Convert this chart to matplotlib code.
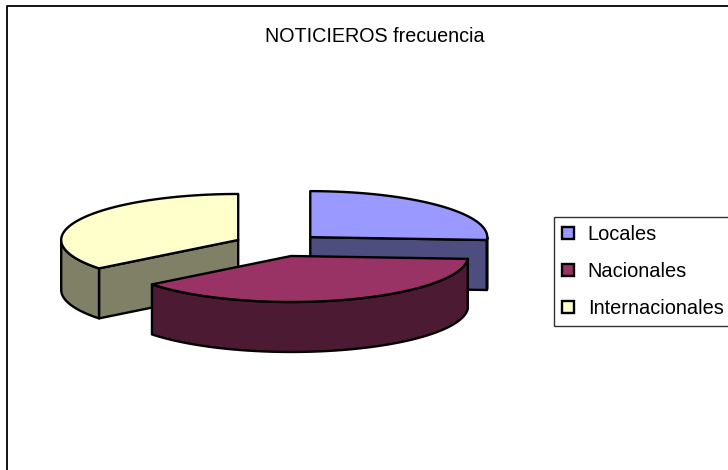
import numpy as np
import matplotlib
matplotlib.use("Agg")
import matplotlib.pyplot as plt
from matplotlib.patches import Polygon, Patch

plt.rcParams['font.family'] = ['Liberation Sans', 'DejaVu Sans']

title = "NOTICIEROS frecuencia"
categories = ["Locales", "Nacionales", "Internacionales"]
values = [26, 38.4, 35.6]
top_colors = ["#9999FF", "#993366", "#FFFFCC"]
side_colors = ["#4D4D80", "#4D1A33", "#808066"]

W, H = 728, 470
CX, CY, RX, RY = 278, 245, 177, 46
DEPTH = 50
EXPLODE = 0.25
EDGE = dict(edgecolor="black", linewidth=1.7, joinstyle="round")

fig = plt.figure(figsize=(W / 100, H / 100), dpi=100)
ax = fig.add_axes([0, 0, 1, 1])
ax.set_xlim(0, W)
ax.set_ylim(H, 0)
ax.axis("off")

# chart frame: only left and top are inside the picture
ax.plot([7, 7, W + 5], [H + 5, 6, 6], color="black", lw=1.3, zorder=1)


def pt(a, c):
    r = np.radians(a)
    return c[0] + RX * np.cos(r), c[1] - RY * np.sin(r)


fr = np.array(values, float) / sum(values)
ends = 90 - 360 * np.cumsum(fr)
starts = np.r_[90, ends[:-1]]
slices = []
for s, e in zip(starts, ends):
    m = np.radians((s + e) / 2)
    c = (CX + EXPLODE * RX * np.cos(m), CY - EXPLODE * RY * np.sin(m))
    slices.append((s, e, c))


def draw_slice(i, z):
    s, e, c = slices[i]
    top, side = top_colors[i], side_colors[i]
    # cut faces that look toward the viewer
    for a, normal in ((s, s + 90), (e, e - 90)):
        if np.sin(np.radians(normal)) < -1e-6:
            x, y = pt(a, c)
            face = [c, (x, y), (x, y + DEPTH), (c[0], c[1] + DEPTH)]
            ax.add_patch(Polygon(face, closed=True, facecolor=side, zorder=z, **EDGE))
    # outer rim, front half only
    for lo in (0, -360):
        a0, a1 = min(s, lo), max(e, lo - 180)
        if a0 > a1:
            ang = np.linspace(a0, a1, 80)
            upper = [pt(a, c) for a in ang]
            lower = [(x, y + DEPTH) for x, y in upper[::-1]]
            ax.add_patch(Polygon(upper + lower, closed=True, facecolor=side, zorder=z + 0.1, **EDGE))
    # top face
    ang = np.linspace(s, e, 160)
    ax.add_patch(Polygon([c] + [pt(a, c) for a in ang], closed=True, facecolor=top, zorder=z + 0.2, **EDGE))


for i, z in ((2, 2), (0, 3), (1, 4)):
    draw_slice(i, z)

ax.text(375, 36, title, ha="center", va="center", fontsize=14.2, color="black")

handles = [Patch(facecolor=c, edgecolor="black", linewidth=1.7) for c in top_colors]
leg = ax.legend(handles, categories, loc="upper left",
                bbox_to_anchor=(554 / W, 1 - 217 / H), bbox_transform=fig.transFigure,
                borderaxespad=0, fancybox=False, framealpha=1, edgecolor="#333333",
                fontsize=14.4, handlelength=0.6, handleheight=0.6, handletextpad=0.69,
                labelspacing=0.9, borderpad=0.4)
leg.get_frame().set_linewidth(1.0)

fig.savefig("out.png", dpi=100, facecolor="white")
